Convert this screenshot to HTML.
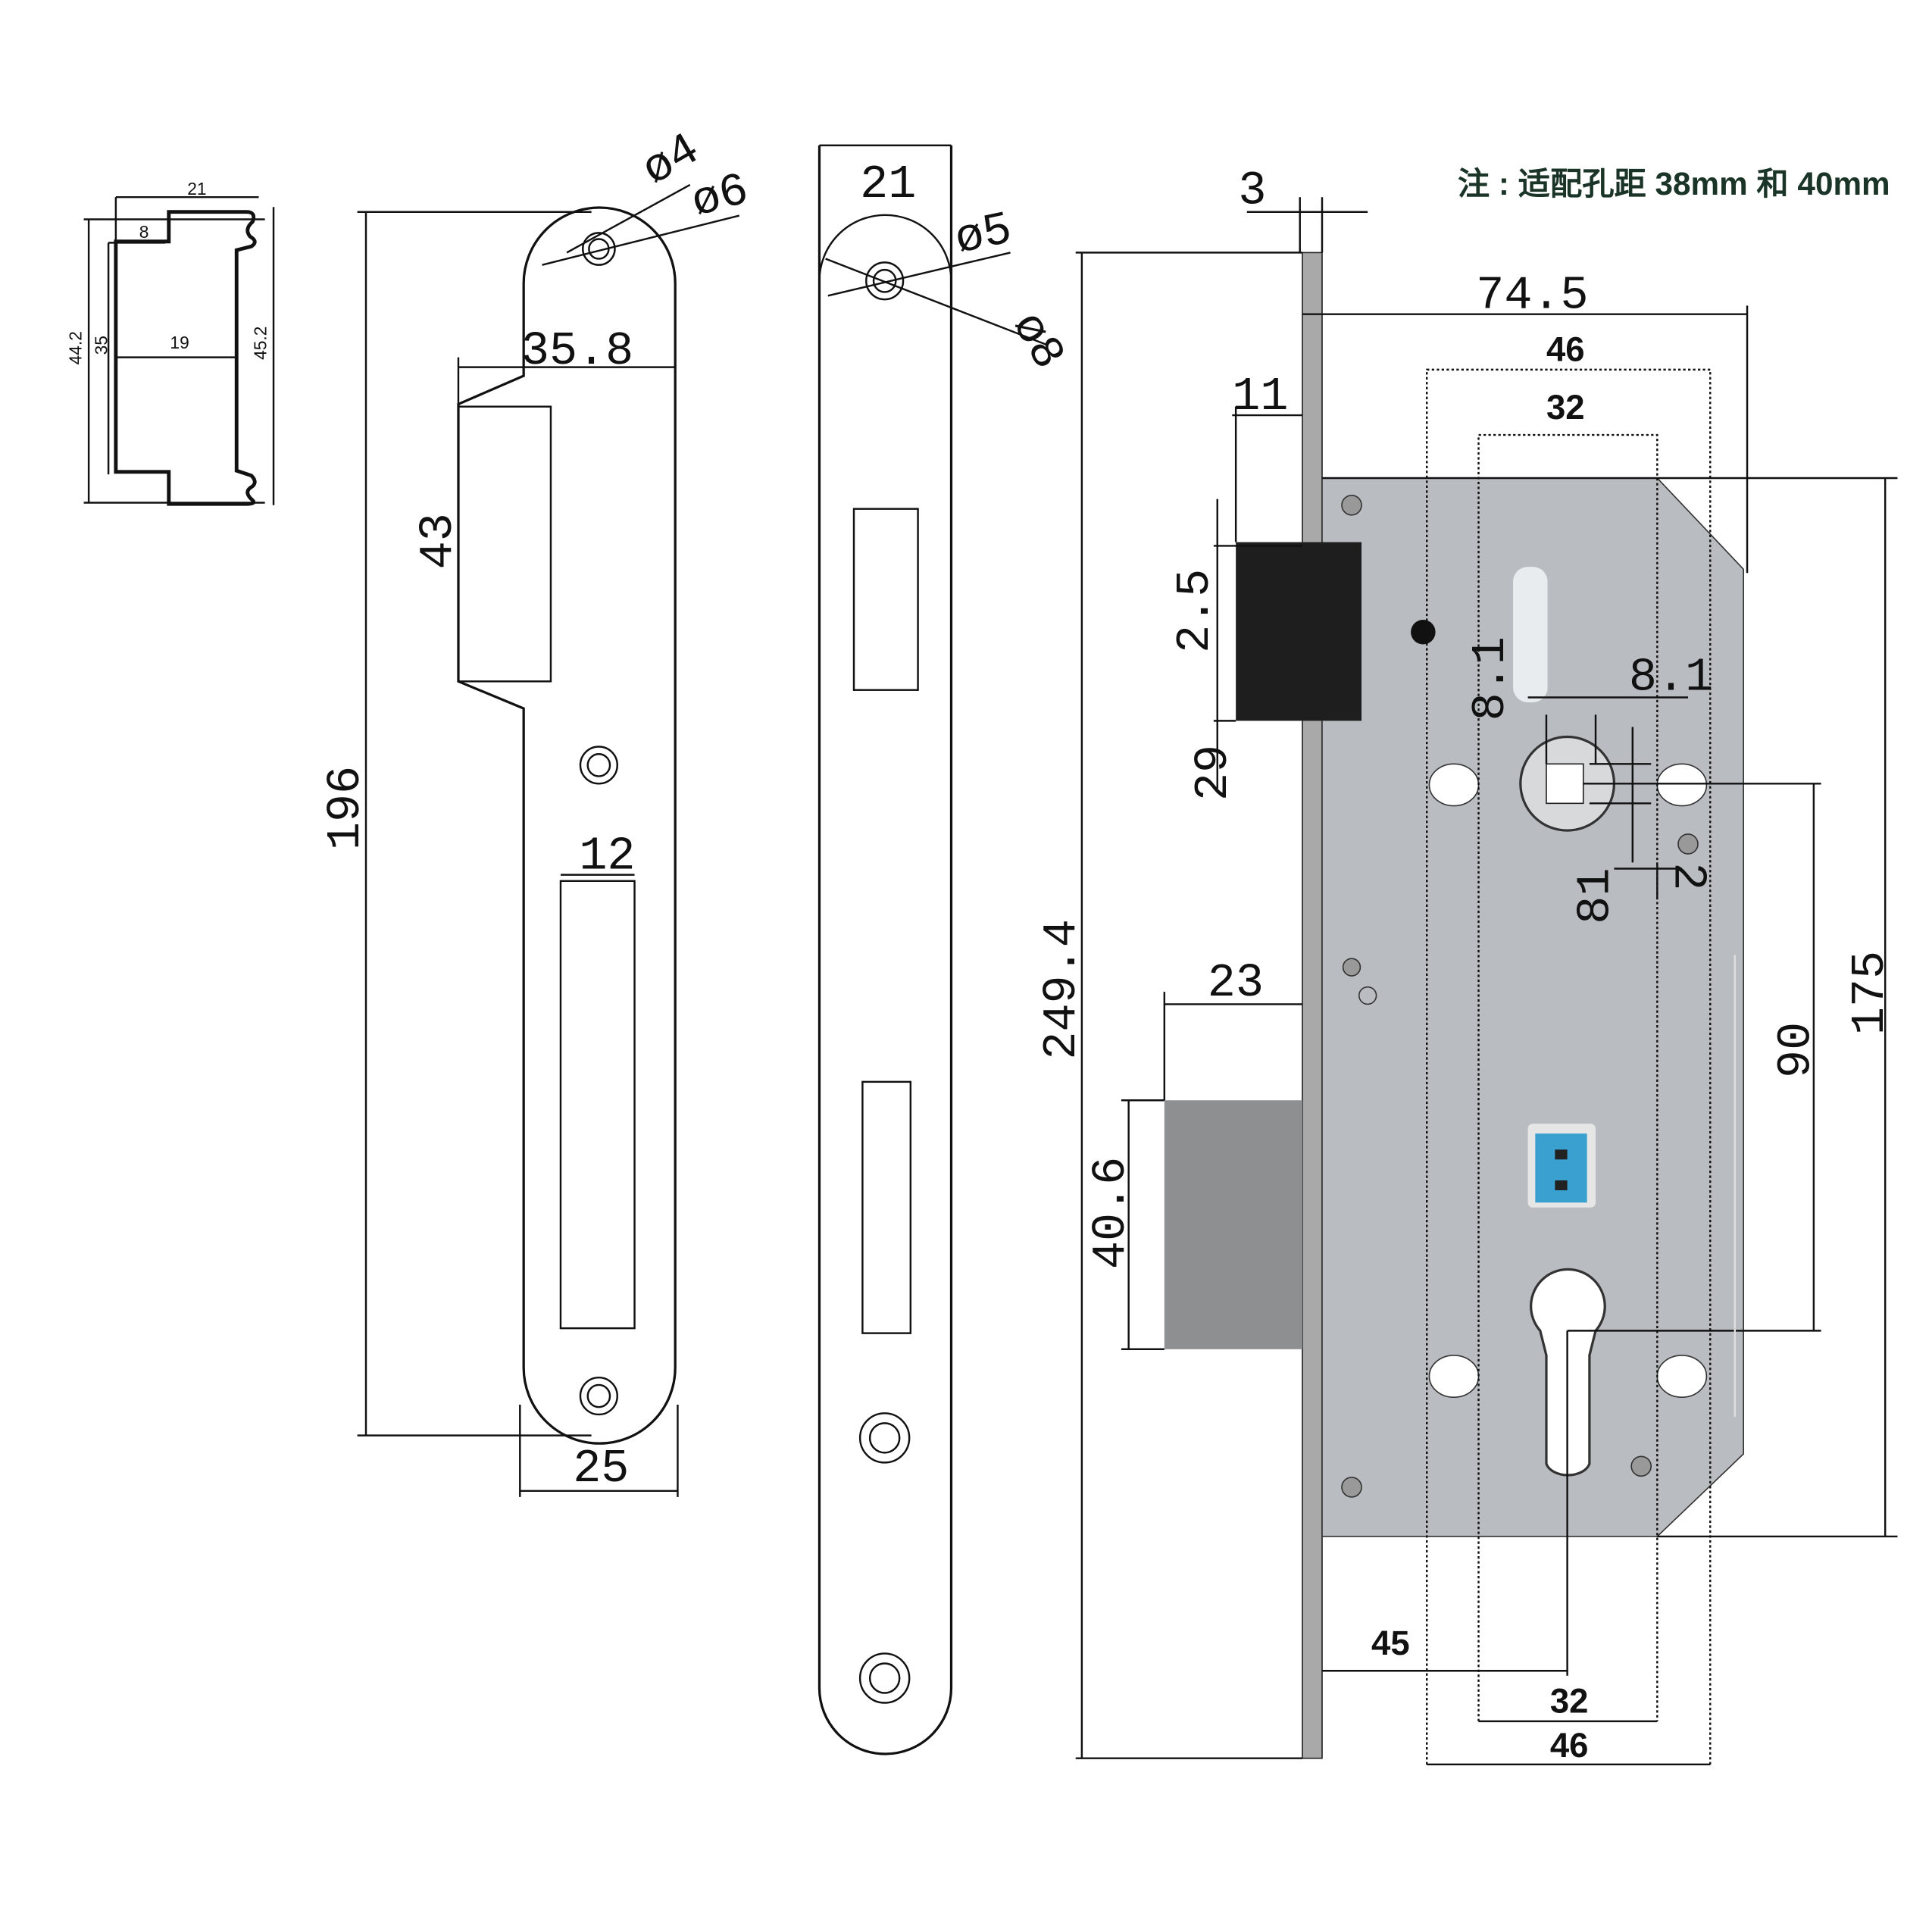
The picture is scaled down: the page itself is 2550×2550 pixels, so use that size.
<!DOCTYPE html>
<html><head><meta charset="utf-8"><style>
html,body{margin:0;padding:0;background:#fff}
svg{display:block}
text{font-family:"Liberation Sans","Noto Sans CJK SC",sans-serif;fill:#111}
.n{font-family:"Liberation Mono",monospace;font-size:38px}
.b{font-weight:bold;font-size:28px;font-family:"Liberation Sans",sans-serif}
</style></head><body>
<svg width="2550" height="2550" viewBox="0 0 1568 1568" xmlns="http://www.w3.org/2000/svg">
<rect width="1568" height="1568" fill="#fff"/>
<g stroke="#111" fill="none" stroke-width="1.5">
<line x1="68" y1="178" x2="215" y2="178"/><line x1="68" y1="408" x2="215" y2="408"/>
<line x1="72" y1="178" x2="72" y2="408"/><line x1="222" y1="168" x2="222" y2="410"/>
<line x1="94" y1="160" x2="210" y2="160"/><line x1="94" y1="160" x2="94" y2="196"/>
<line x1="88" y1="197" x2="134" y2="197"/>
<line x1="88" y1="197" x2="88" y2="385"/>
<line x1="94" y1="290" x2="192" y2="290"/>
<path d="M94,196 H137 V172 H200 Q208,172 205,180 Q198,186 203,192 Q210,196 204,200 L192,203 V382 L204,386 Q210,392 203,396 Q198,400 205,406 Q208,409 200,409 H137 V383 H94 Z" stroke-width="3"/>
<!-- strike plate -->
<path d="M425,1110 V575 L372,553 V328 L425,305 V230 A61.5,61.5 0 0 1 548,230 V1110 A61.5,61.5 0 0 1 425,1110" stroke-width="2"/>
<rect x="372" y="330" width="75" height="223"/>
<rect x="455" y="715" width="60" height="363"/>
<circle cx="486" cy="202" r="13"/><circle cx="486" cy="202" r="8"/>
<circle cx="486" cy="621" r="15"/><circle cx="486" cy="621" r="9"/>
<circle cx="486" cy="1133" r="15"/><circle cx="486" cy="1133" r="9"/>
<line x1="290" y1="172" x2="480" y2="172"/><line x1="290" y1="1165" x2="480" y2="1165"/>
<line x1="297" y1="172" x2="297" y2="1165"/>
<line x1="372" y1="298" x2="548" y2="298"/><line x1="372" y1="290" x2="372" y2="330"/>
<line x1="422" y1="1140" x2="422" y2="1215"/><line x1="550" y1="1140" x2="550" y2="1215"/>
<line x1="422" y1="1210" x2="550" y2="1210"/>
<line x1="455" y1="710" x2="515" y2="710"/>
<line x1="440" y1="215" x2="600" y2="175"/><line x1="460" y1="205" x2="560" y2="150"/>
<!-- faceplate -->
<path d="M665,118 V1370 A53.5,53.5 0 0 0 772,1370 V118" stroke-width="2"/>
<line x1="665" y1="118" x2="772" y2="118"/>
<path d="M665,228 A53.5,53.5 0 0 1 772,228"/>
<rect x="693" y="413" width="52" height="147"/>
<rect x="700" y="878" width="39" height="204"/>
<circle cx="718" cy="228" r="15"/><circle cx="718" cy="228" r="9"/>
<circle cx="718" cy="1167" r="20"/><circle cx="718" cy="1167" r="12"/>
<circle cx="718" cy="1362" r="20"/><circle cx="718" cy="1362" r="12"/>
<line x1="672" y1="240" x2="820" y2="205"/><line x1="670" y1="210" x2="850" y2="280"/>
</g>
<!-- lock -->
<rect x="1057" y="205" width="16" height="1222" fill="#a9a9a9" stroke="#222"/>
<path d="M1073,388 H1345 L1415,462 V1180 L1345,1247 H1073 Z" fill="#b9bdc1" stroke="#333"/>
<rect x="1003" y="440" width="102" height="145" fill="#1e1e1e"/>
<rect x="945" y="893" width="112" height="202" fill="#8e8f91"/>
<rect x="1228" y="460" width="28" height="110" rx="12" fill="#e9ecee"/>
<circle cx="1155" cy="513" r="10" fill="#111"/>
<circle cx="1272" cy="636" r="38" fill="#d7d9db" stroke="#333" stroke-width="2"/>
<rect x="1255" y="620" width="30" height="32" fill="#fff" stroke="#222"/>
<ellipse cx="1180" cy="637" rx="20" ry="17" fill="#fff" stroke="#333"/>
<ellipse cx="1365" cy="637" rx="20" ry="17" fill="#fff" stroke="#333"/>
<ellipse cx="1180" cy="1117" rx="20" ry="17" fill="#fff" stroke="#333"/>
<ellipse cx="1365" cy="1117" rx="20" ry="17" fill="#fff" stroke="#333"/>
<path d="M1250,1080 A30,30 0 1 1 1295,1080 L1290,1100 V1188 A18,12 0 0 1 1255,1188 V1100 Z" fill="#fff" stroke="#333" stroke-width="2"/>
<rect x="1240" y="912" width="55" height="68" rx="4" fill="#e6e6e6"/>
<rect x="1246" y="920" width="42" height="56" fill="#3aa0d0"/>
<rect x="1262" y="933" width="10" height="8" fill="#222"/><rect x="1262" y="958" width="10" height="8" fill="#222"/>
<circle cx="1097" cy="410" r="8" fill="#999" stroke="#333"/>
<circle cx="1097" cy="1207" r="8" fill="#999" stroke="#333"/>
<circle cx="1097" cy="785" r="7" fill="#999" stroke="#333"/>
<circle cx="1110" cy="808" r="7" fill="none" stroke="#333"/>
<circle cx="1370" cy="685" r="8" fill="#999" stroke="#333"/>
<circle cx="1332" cy="1190" r="8" fill="#999" stroke="#333"/>
<g stroke="#111" fill="none" stroke-width="1.5">
<line x1="873" y1="205" x2="1057" y2="205"/><line x1="873" y1="1427" x2="1057" y2="1427"/>
<line x1="878" y1="205" x2="878" y2="1427"/>
<line x1="1057" y1="255" x2="1418" y2="255"/><line x1="1418" y1="248" x2="1418" y2="465"/>
<line x1="1012" y1="172" x2="1110" y2="172"/>
<line x1="1055" y1="160" x2="1055" y2="205"/><line x1="1073" y1="160" x2="1073" y2="205"/>
<line x1="1000" y1="337" x2="1057" y2="337"/><line x1="1003" y1="330" x2="1003" y2="440"/>
<line x1="985" y1="443" x2="1057" y2="443"/><line x1="985" y1="585" x2="1003" y2="585"/>
<line x1="988" y1="405" x2="988" y2="640"/>
<line x1="945" y1="815" x2="1057" y2="815"/><line x1="945" y1="805" x2="945" y2="893"/>
<line x1="910" y1="893" x2="945" y2="893"/><line x1="910" y1="1095" x2="945" y2="1095"/>
<line x1="916" y1="893" x2="916" y2="1095"/>
<line x1="1073" y1="388" x2="1540" y2="388"/><line x1="1345" y1="1247" x2="1540" y2="1247"/>
<line x1="1530" y1="388" x2="1530" y2="1247"/>
<line x1="1285" y1="636" x2="1478" y2="636"/><line x1="1272" y1="1080" x2="1478" y2="1080"/>
<line x1="1472" y1="636" x2="1472" y2="1080"/>
<line x1="1272" y1="1080" x2="1272" y2="1360"/>
<line x1="1073" y1="1356" x2="1272" y2="1356"/>
<line x1="1200" y1="1397" x2="1345" y2="1397"/><line x1="1158" y1="1432" x2="1388" y2="1432"/>
<line x1="1240" y1="566" x2="1370" y2="566"/>
<line x1="1255" y1="580" x2="1255" y2="620"/><line x1="1295" y1="580" x2="1295" y2="620"/>
<line x1="1325" y1="590" x2="1325" y2="700"/>
<line x1="1290" y1="620" x2="1340" y2="620"/><line x1="1290" y1="652" x2="1340" y2="652"/>
<line x1="1310" y1="705" x2="1365" y2="705"/><line x1="1345" y1="700" x2="1345" y2="730"/>
<line x1="1408" y1="775" x2="1408" y2="1150" stroke="#ddd"/>
</g>
<g stroke="#111" fill="none" stroke-width="1.5" stroke-dasharray="2,2">
<path d="M1158,1432 V300 H1388 V1432"/>
<path d="M1200,1397 V353 H1345 V1397"/>
</g>
<text class="b" x="1183" y="158" style="fill:#1a3528;font-size:26px">注 : 适配孔距 38mm 和 40mm</text>
<text x="152" y="158" font-size="14">21</text><text x="113" y="193" font-size="14">8</text>
<text x="138" y="283" font-size="14">19</text>
<text font-size="14" transform="translate(66,296) rotate(-90)">44.2</text>
<text font-size="14" transform="translate(87,288) rotate(-90)">35</text>
<text font-size="14" transform="translate(216,292) rotate(-90)">45.2</text>
<text class="n" x="423" y="295">35.8</text>
<text class="n" transform="translate(366,462) rotate(-90)">43</text>
<text class="n" transform="translate(291,690) rotate(-90)">196</text>
<text class="n" x="470" y="705">12</text>
<text class="n" x="465" y="1202">25</text>
<text class="n" transform="translate(530,150) rotate(-30)">ø4</text>
<text class="n" transform="translate(565,175) rotate(-15)">ø6</text>
<text class="n" x="698" y="160">21</text>
<text class="n" transform="translate(778,205) rotate(-12)">ø5</text>
<text class="n" transform="translate(822,262) rotate(60)">ø8</text>
<text class="n" x="1005" y="165">3</text>
<text class="n" x="1198" y="250">74.5</text>
<text class="b" x="1255" y="293">46</text>
<text class="b" x="1255" y="340">32</text>
<text class="n" x="1000" y="332">11</text>
<text class="n" transform="translate(980,530) rotate(-90)">2.5</text>
<text class="n" transform="translate(995,650) rotate(-90)">29</text>
<text class="n" x="980" y="808">23</text>
<text class="n" transform="translate(872,860) rotate(-90)">249.4</text>
<text class="n" transform="translate(912,1030) rotate(-90)">40.6</text>
<text class="n" transform="translate(1220,585) rotate(-90)">8.1</text>
<text class="n" x="1322" y="560">8.1</text>
<text class="n" transform="translate(1305,750) rotate(-90)">81</text>
<text class="n" transform="translate(1360,700) rotate(90)">2</text>
<text class="n" transform="translate(1468,875) rotate(-90)">90</text>
<text class="n" transform="translate(1528,840) rotate(-90)">175</text>
<text class="b" x="1113" y="1343">45</text>
<text class="b" x="1258" y="1390">32</text>
<text class="b" x="1258" y="1426">46</text>
</svg>
</body></html>
